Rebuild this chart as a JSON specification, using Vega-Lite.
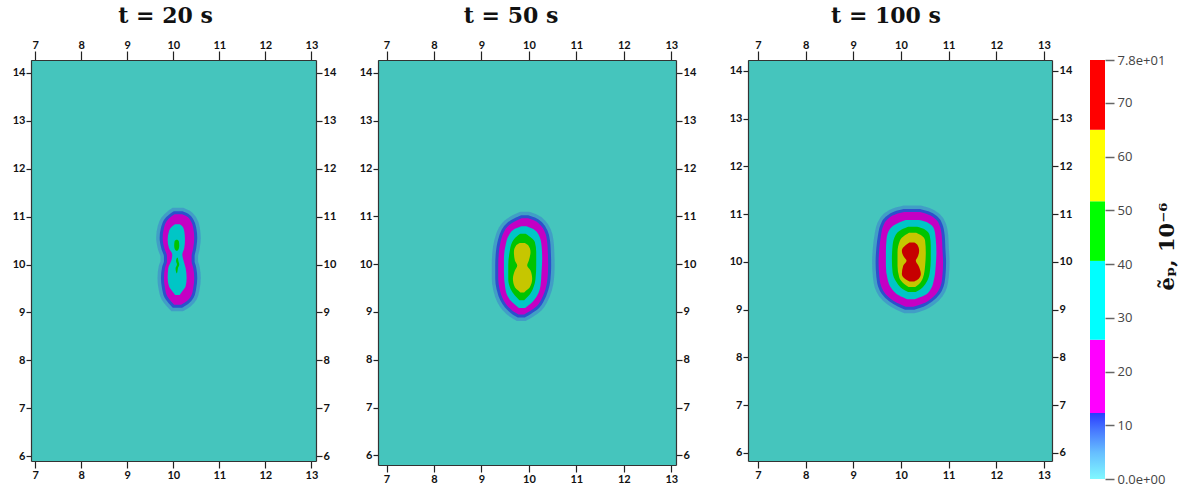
{
  "$schema": "https://vega.github.io/schema/vega-lite/v6.json",
  "padding": {"left": 12, "top": 5, "right": 2, "bottom": 2},
  "background": "white",
  "datasets": {
    "blobs": [
      {"p":"t20","band":"purple","s":"a","y":11.05,"xl":10.03,"xr":10.19},
      {"p":"t20","band":"purple","s":"a","y":11.007,"xl":9.964,"xr":10.29},
      {"p":"t20","band":"purple","s":"a","y":10.903,"xl":9.856,"xr":10.384},
      {"p":"t20","band":"purple","s":"a","y":10.764,"xl":9.798,"xr":10.434},
      {"p":"t20","band":"purple","s":"a","y":10.555,"xl":9.769,"xr":10.456},
      {"p":"t20","band":"purple","s":"a","y":10.346,"xl":9.805,"xr":10.434},
      {"p":"t20","band":"purple","s":"a","y":10.172,"xl":9.863,"xr":10.398},
      {"p":"t20","band":"purple","s":"a","y":10.068,"xl":9.863,"xr":10.398},
      {"p":"t20","band":"purple","s":"a","y":9.929,"xl":9.82,"xr":10.434},
      {"p":"t20","band":"purple","s":"a","y":9.72,"xl":9.798,"xr":10.456},
      {"p":"t20","band":"purple","s":"a","y":9.511,"xl":9.82,"xr":10.434},
      {"p":"t20","band":"purple","s":"a","y":9.337,"xl":9.87,"xr":10.384},
      {"p":"t20","band":"purple","s":"a","y":9.233,"xl":9.95,"xr":10.29},
      {"p":"t20","band":"purple","s":"a","y":9.16,"xl":10.02,"xr":10.17},

      {"p":"t20","band":"cyan","s":"a","y":10.84,"xl":10.04,"xr":10.14},
      {"p":"t20","band":"cyan","s":"a","y":10.798,"xl":9.979,"xr":10.196},
      {"p":"t20","band":"cyan","s":"a","y":10.694,"xl":9.907,"xr":10.239},
      {"p":"t20","band":"cyan","s":"a","y":10.52,"xl":9.878,"xr":10.254},
      {"p":"t20","band":"cyan","s":"a","y":10.346,"xl":9.907,"xr":10.239},
      {"p":"t20","band":"cyan","s":"a","y":10.207,"xl":9.979,"xr":10.196},
      {"p":"t20","band":"cyan","s":"a","y":10.103,"xl":9.964,"xr":10.218},
      {"p":"t20","band":"cyan","s":"a","y":9.929,"xl":9.892,"xr":10.268},
      {"p":"t20","band":"cyan","s":"a","y":9.72,"xl":9.878,"xr":10.29},
      {"p":"t20","band":"cyan","s":"a","y":9.546,"xl":9.907,"xr":10.268},
      {"p":"t20","band":"cyan","s":"a","y":9.442,"xl":9.979,"xr":10.196},
      {"p":"t20","band":"cyan","s":"a","y":9.365,"xl":10.04,"xr":10.14},

      {"p":"t20","band":"green","s":"g1","y":10.52,"xl":10.06,"xr":10.09},
      {"p":"t20","band":"green","s":"g1","y":10.49,"xl":10.03,"xr":10.12},
      {"p":"t20","band":"green","s":"g1","y":10.4,"xl":10.02,"xr":10.13},
      {"p":"t20","band":"green","s":"g1","y":10.33,"xl":10.03,"xr":10.12},
      {"p":"t20","band":"green","s":"g1","y":10.29,"xl":10.06,"xr":10.09},
      {"p":"t20","band":"green","s":"g2","y":10.14,"xl":10.08,"xr":10.1},
      {"p":"t20","band":"green","s":"g2","y":10.08,"xl":10.06,"xr":10.11},
      {"p":"t20","band":"green","s":"g2","y":10.0,"xl":10.08,"xr":10.13},
      {"p":"t20","band":"green","s":"g2","y":9.92,"xl":10.05,"xr":10.1},
      {"p":"t20","band":"green","s":"g2","y":9.85,"xl":10.06,"xr":10.09},
      {"p":"t20","band":"green","s":"g2","y":9.82,"xl":10.07,"xr":10.08},

      {"p":"t50","band":"purple","s":"a","y":10.96,"xl":9.85,"xr":9.98},
      {"p":"t50","band":"purple","s":"a","y":10.919,"xl":9.754,"xr":10.104},
      {"p":"t50","band":"purple","s":"a","y":10.814,"xl":9.579,"xr":10.245},
      {"p":"t50","band":"purple","s":"a","y":10.674,"xl":9.474,"xr":10.336},
      {"p":"t50","band":"purple","s":"a","y":10.464,"xl":9.403,"xr":10.385},
      {"p":"t50","band":"purple","s":"a","y":10.254,"xl":9.368,"xr":10.399},
      {"p":"t50","band":"purple","s":"a","y":9.973,"xl":9.354,"xr":10.406},
      {"p":"t50","band":"purple","s":"a","y":9.693,"xl":9.354,"xr":10.392},
      {"p":"t50","band":"purple","s":"a","y":9.483,"xl":9.382,"xr":10.35},
      {"p":"t50","band":"purple","s":"a","y":9.273,"xl":9.453,"xr":10.266},
      {"p":"t50","band":"purple","s":"a","y":9.133,"xl":9.544,"xr":10.175},
      {"p":"t50","band":"purple","s":"a","y":9.007,"xl":9.684,"xr":9.999},
      {"p":"t50","band":"purple","s":"a","y":8.95,"xl":9.78,"xr":9.9},

      {"p":"t50","band":"cyan","s":"a","y":10.795,"xl":9.84,"xr":9.95},
      {"p":"t50","band":"cyan","s":"a","y":10.744,"xl":9.719,"xr":10.069},
      {"p":"t50","band":"cyan","s":"a","y":10.604,"xl":9.579,"xr":10.21},
      {"p":"t50","band":"cyan","s":"a","y":10.394,"xl":9.509,"xr":10.266},
      {"p":"t50","band":"cyan","s":"a","y":10.113,"xl":9.474,"xr":10.28},
      {"p":"t50","band":"cyan","s":"a","y":9.833,"xl":9.474,"xr":10.266},
      {"p":"t50","band":"cyan","s":"a","y":9.553,"xl":9.495,"xr":10.245},
      {"p":"t50","band":"cyan","s":"a","y":9.343,"xl":9.544,"xr":10.175},
      {"p":"t50","band":"cyan","s":"a","y":9.203,"xl":9.649,"xr":10.069},
      {"p":"t50","band":"cyan","s":"a","y":9.085,"xl":9.79,"xr":9.92},

      {"p":"t50","band":"green","s":"a","y":10.635,"xl":9.82,"xr":9.93},
      {"p":"t50","band":"green","s":"a","y":10.59,"xl":9.754,"xr":9.999},
      {"p":"t50","band":"green","s":"a","y":10.464,"xl":9.649,"xr":10.125},
      {"p":"t50","band":"green","s":"a","y":10.254,"xl":9.593,"xr":10.154},
      {"p":"t50","band":"green","s":"a","y":9.973,"xl":9.565,"xr":10.154},
      {"p":"t50","band":"green","s":"a","y":9.693,"xl":9.565,"xr":10.14},
      {"p":"t50","band":"green","s":"a","y":9.483,"xl":9.614,"xr":10.083},
      {"p":"t50","band":"green","s":"a","y":9.343,"xl":9.705,"xr":9.999},
      {"p":"t50","band":"green","s":"a","y":9.245,"xl":9.8,"xr":9.9},

      {"p":"t50","band":"yellow","s":"a","y":10.445,"xl":9.81,"xr":9.91},
      {"p":"t50","band":"yellow","s":"a","y":10.394,"xl":9.733,"xr":9.985},
      {"p":"t50","band":"yellow","s":"a","y":10.254,"xl":9.684,"xr":10.034},
      {"p":"t50","band":"yellow","s":"a","y":10.078,"xl":9.705,"xr":9.999},
      {"p":"t50","band":"yellow","s":"a","y":9.973,"xl":9.754,"xr":9.964},
      {"p":"t50","band":"yellow","s":"a","y":9.868,"xl":9.705,"xr":10.034},
      {"p":"t50","band":"yellow","s":"a","y":9.693,"xl":9.663,"xr":10.069},
      {"p":"t50","band":"yellow","s":"a","y":9.518,"xl":9.705,"xr":10.02},
      {"p":"t50","band":"yellow","s":"a","y":9.448,"xl":9.775,"xr":9.943},
      {"p":"t50","band":"yellow","s":"a","y":9.405,"xl":9.82,"xr":9.9},

      {"p":"t100","band":"purple","s":"a","y":11.045,"xl":10.07,"xr":10.4},
      {"p":"t100","band":"purple","s":"a","y":11.001,"xl":9.894,"xr":10.556},
      {"p":"t100","band":"purple","s":"a","y":10.896,"xl":9.719,"xr":10.73},
      {"p":"t100","band":"purple","s":"a","y":10.757,"xl":9.629,"xr":10.814},
      {"p":"t100","band":"purple","s":"a","y":10.548,"xl":9.58,"xr":10.856},
      {"p":"t100","band":"purple","s":"a","y":10.27,"xl":9.545,"xr":10.87},
      {"p":"t100","band":"purple","s":"a","y":9.992,"xl":9.531,"xr":10.884},
      {"p":"t100","band":"purple","s":"a","y":9.713,"xl":9.545,"xr":10.87},
      {"p":"t100","band":"purple","s":"a","y":9.505,"xl":9.58,"xr":10.835},
      {"p":"t100","band":"purple","s":"a","y":9.365,"xl":9.649,"xr":10.765},
      {"p":"t100","band":"purple","s":"a","y":9.226,"xl":9.789,"xr":10.626},
      {"p":"t100","band":"purple","s":"a","y":9.122,"xl":9.963,"xr":10.451},
      {"p":"t100","band":"purple","s":"a","y":9.06,"xl":10.1,"xr":10.26},

      {"p":"t100","band":"cyan","s":"a","y":10.878,"xl":10.1,"xr":10.38},
      {"p":"t100","band":"cyan","s":"a","y":10.827,"xl":9.963,"xr":10.556},
      {"p":"t100","band":"cyan","s":"a","y":10.688,"xl":9.768,"xr":10.695},
      {"p":"t100","band":"cyan","s":"a","y":10.479,"xl":9.698,"xr":10.73},
      {"p":"t100","band":"cyan","s":"a","y":10.2,"xl":9.684,"xr":10.744},
      {"p":"t100","band":"cyan","s":"a","y":9.922,"xl":9.684,"xr":10.73},
      {"p":"t100","band":"cyan","s":"a","y":9.644,"xl":9.719,"xr":10.695},
      {"p":"t100","band":"cyan","s":"a","y":9.435,"xl":9.81,"xr":10.626},
      {"p":"t100","band":"cyan","s":"a","y":9.296,"xl":9.963,"xr":10.486},
      {"p":"t100","band":"cyan","s":"a","y":9.22,"xl":10.13,"xr":10.29},

      {"p":"t100","band":"green","s":"a","y":10.738,"xl":10.15,"xr":10.34},
      {"p":"t100","band":"green","s":"a","y":10.688,"xl":10.033,"xr":10.486},
      {"p":"t100","band":"green","s":"a","y":10.548,"xl":9.88,"xr":10.605},
      {"p":"t100","band":"green","s":"a","y":10.34,"xl":9.824,"xr":10.626},
      {"p":"t100","band":"green","s":"a","y":10.061,"xl":9.81,"xr":10.626},
      {"p":"t100","band":"green","s":"a","y":9.783,"xl":9.824,"xr":10.605},
      {"p":"t100","band":"green","s":"a","y":9.574,"xl":9.908,"xr":10.535},
      {"p":"t100","band":"green","s":"a","y":9.435,"xl":10.033,"xr":10.417},
      {"p":"t100","band":"green","s":"a","y":9.37,"xl":10.15,"xr":10.31},

      {"p":"t100","band":"yellow","s":"a","y":10.612,"xl":10.17,"xr":10.32},
      {"p":"t100","band":"yellow","s":"a","y":10.562,"xl":10.089,"xr":10.417},
      {"p":"t100","band":"yellow","s":"a","y":10.444,"xl":9.977,"xr":10.507},
      {"p":"t100","band":"yellow","s":"a","y":10.2,"xl":9.928,"xr":10.521},
      {"p":"t100","band":"yellow","s":"a","y":9.922,"xl":9.928,"xr":10.507},
      {"p":"t100","band":"yellow","s":"a","y":9.678,"xl":9.963,"xr":10.465},
      {"p":"t100","band":"yellow","s":"a","y":9.539,"xl":10.068,"xr":10.382},
      {"p":"t100","band":"yellow","s":"a","y":9.475,"xl":10.16,"xr":10.3},

      {"p":"t100","band":"red","s":"a","y":10.405,"xl":10.18,"xr":10.28},
      {"p":"t100","band":"red","s":"a","y":10.353,"xl":10.103,"xr":10.347},
      {"p":"t100","band":"red","s":"a","y":10.235,"xl":10.019,"xr":10.382},
      {"p":"t100","band":"red","s":"a","y":10.096,"xl":10.068,"xr":10.347},
      {"p":"t100","band":"red","s":"a","y":10.026,"xl":10.117,"xr":10.312},
      {"p":"t100","band":"red","s":"a","y":9.922,"xl":10.047,"xr":10.368},
      {"p":"t100","band":"red","s":"a","y":9.748,"xl":10.019,"xr":10.417},
      {"p":"t100","band":"red","s":"a","y":9.644,"xl":10.089,"xr":10.368},
      {"p":"t100","band":"red","s":"a","y":9.592,"xl":10.18,"xr":10.28}
    ],
    "colorbar": [
      {"seg":"low","lo":0,"hi":12.3},
      {"seg":"magenta","lo":12.3,"hi":25.9},
      {"seg":"cyan","lo":25.9,"hi":40.6},
      {"seg":"green","lo":40.6,"hi":51.7},
      {"seg":"yellow","lo":51.7,"hi":65},
      {"seg":"red","lo":65,"hi":78}
    ]
  },
  "config": {
    "view": {"stroke": null},
    "axis": {
      "grid": false,
      "title": null,
      "labelFont": "Lato",
      "labelFontWeight": "bold",
      "labelFontSize": 11,
      "labelColor": "#111",
      "tickColor": "#222",
      "tickWidth": 1.2,
      "domainColor": "#333",
      "domainWidth": 1.2,
      "labelFlush": false,
      "labelOverlap": false,
      "labelPadding": 1
    },
    "title": {"font": "DejaVu Serif", "fontSize": 22, "fontWeight": "bold", "color": "#111"}
  },
  "resolve": {"scale": {"color": "independent"}},
  "spacing": 18,
  "hconcat": [
    {
      "spacing": 33,
      "hconcat": [
        {
          "spacing": 23,
          "hconcat": [
            {
              "title": {"text": "t = 20 s", "offset": 11, "dx": -8},
              "width": 285,
              "height": 401,
              "view": {"fill": "#45C5BD"},
              "data": {"name": "blobs"},
              "transform": [{"filter": "datum.p == 't20'"}],
              "encoding": {
                "x": {"field": "xl", "type": "quantitative", "stack": null, "axis": null,
                      "scale": {"domain": [6.91, 13.1], "nice": false, "zero": false}},
                "x2": {"field": "xr"},
                "y": {"field": "y", "type": "quantitative", "axis": null,
                      "scale": {"domain": [5.9, 14.27], "nice": false, "zero": false}},
                "detail": {"field": "s"},
                "color": {"field": "band", "type": "nominal", "legend": null,
                          "scale": {"domain": ["purple","cyan","green","yellow","red"],
                                    "range": ["#C400C4","#00C6C6","#00C400","#C6C600","#C60000"]}}
              },
              "layer": [
                {
                  "transform": [{"filter": "datum.band == 'purple'"}],
                  "mark": {"type": "area", "orient": "horizontal", "interpolate": "monotone", "fillOpacity": 0, "stroke": "#3a3ae0", "strokeOpacity": 0.28, "strokeWidth": 13},
                  "encoding": {
                    "x": {"field": "xl", "type": "quantitative", "stack": null,
                          "axis": {"orient": "bottom", "values": [7,8,9,10,11,12,13], "tickSize": 7}},
                    "y": {"field": "y", "type": "quantitative",
                          "axis": {"orient": "left", "values": [6,7,8,9,10,11,12,13,14], "tickSize": 5}}
                  }
                },
                {
                  "transform": [{"filter": "datum.band == 'purple'"}],
                  "mark": {"type": "area", "orient": "horizontal", "interpolate": "monotone", "fillOpacity": 0, "stroke": "#1e1ed0", "strokeOpacity": 0.6, "strokeWidth": 6},
                  "encoding": {
                    "x": {"field": "xl", "type": "quantitative", "stack": null,
                          "axis": {"orient": "top", "values": [7,8,9,10,11,12,13], "tickSize": 9}},
                    "y": {"field": "y", "type": "quantitative",
                          "axis": {"orient": "right", "values": [6,7,8,9,10,11,12,13,14], "tickSize": 6}}
                  }
                },
                {"transform": [{"filter": "datum.band == 'purple'"}], "mark": {"type": "area", "orient": "horizontal", "interpolate": "monotone"}},
                {"transform": [{"filter": "datum.band == 'cyan'"}], "mark": {"type": "area", "orient": "horizontal", "interpolate": "monotone"}},
                {"transform": [{"filter": "datum.band == 'green'"}], "mark": {"type": "area", "orient": "horizontal", "interpolate": "monotone"}}
              ],
              "resolve": {"axis": {"x": "independent", "y": "independent"}}
            },
            {
              "title": {"text": "t = 50 s", "offset": 11, "dx": -16},
              "width": 298,
              "height": 405,
              "view": {"fill": "#45C5BD"},
              "data": {"name": "blobs"},
              "transform": [{"filter": "datum.p == 't50'"}],
              "encoding": {
                "x": {"field": "xl", "type": "quantitative", "stack": null, "axis": null,
                      "scale": {"domain": [6.82, 13.1], "nice": false, "zero": false}},
                "x2": {"field": "xr"},
                "y": {"field": "y", "type": "quantitative", "axis": null,
                      "scale": {"domain": [5.8, 14.27], "nice": false, "zero": false}},
                "detail": {"field": "s"},
                "color": {"field": "band", "type": "nominal", "legend": null,
                          "scale": {"domain": ["purple","cyan","green","yellow","red"],
                                    "range": ["#C400C4","#00C6C6","#00C400","#C6C600","#C60000"]}}
              },
              "layer": [
                {
                  "transform": [{"filter": "datum.band == 'purple'"}],
                  "mark": {"type": "area", "orient": "horizontal", "interpolate": "monotone", "fillOpacity": 0, "stroke": "#3a3ae0", "strokeOpacity": 0.28, "strokeWidth": 13},
                  "encoding": {
                    "x": {"field": "xl", "type": "quantitative", "stack": null,
                          "axis": {"orient": "bottom", "values": [7,8,9,10,11,12,13], "tickSize": 7}},
                    "y": {"field": "y", "type": "quantitative",
                          "axis": {"orient": "left", "values": [6,7,8,9,10,11,12,13,14], "tickSize": 5}}
                  }
                },
                {
                  "transform": [{"filter": "datum.band == 'purple'"}],
                  "mark": {"type": "area", "orient": "horizontal", "interpolate": "monotone", "fillOpacity": 0, "stroke": "#1e1ed0", "strokeOpacity": 0.6, "strokeWidth": 6},
                  "encoding": {
                    "x": {"field": "xl", "type": "quantitative", "stack": null,
                          "axis": {"orient": "top", "values": [7,8,9,10,11,12,13], "tickSize": 9}},
                    "y": {"field": "y", "type": "quantitative",
                          "axis": {"orient": "right", "values": [6,7,8,9,10,11,12,13,14], "tickSize": 6}}
                  }
                },
                {"transform": [{"filter": "datum.band == 'purple'"}], "mark": {"type": "area", "orient": "horizontal", "interpolate": "monotone"}},
                {"transform": [{"filter": "datum.band == 'cyan'"}], "mark": {"type": "area", "orient": "horizontal", "interpolate": "monotone"}},
                {"transform": [{"filter": "datum.band == 'green'"}], "mark": {"type": "area", "orient": "horizontal", "interpolate": "monotone"}},
                {"transform": [{"filter": "datum.band == 'yellow'"}], "mark": {"type": "area", "orient": "horizontal", "interpolate": "monotone"}}
              ],
              "resolve": {"axis": {"x": "independent", "y": "independent"}}
            }
          ]
        },
        {
          "title": {"text": "t = 100 s", "offset": 11, "dx": -14},
          "width": 304,
          "height": 401,
          "view": {"fill": "#45C5BD"},
          "data": {"name": "blobs"},
          "transform": [{"filter": "datum.p == 't100'"}],
          "encoding": {
            "x": {"field": "xl", "type": "quantitative", "stack": null, "axis": null,
                  "scale": {"domain": [6.79, 13.17], "nice": false, "zero": false}},
            "x2": {"field": "xr"},
            "y": {"field": "y", "type": "quantitative", "axis": null,
                  "scale": {"domain": [5.83, 14.23], "nice": false, "zero": false}},
            "detail": {"field": "s"},
            "color": {"field": "band", "type": "nominal", "legend": null,
                      "scale": {"domain": ["purple","cyan","green","yellow","red"],
                                "range": ["#C400C4","#00C6C6","#00C400","#C6C600","#C60000"]}}
          },
          "layer": [
            {
              "transform": [{"filter": "datum.band == 'purple'"}],
              "mark": {"type": "area", "orient": "horizontal", "interpolate": "monotone", "fillOpacity": 0, "stroke": "#3a3ae0", "strokeOpacity": 0.28, "strokeWidth": 13},
              "encoding": {
                "x": {"field": "xl", "type": "quantitative", "stack": null,
                      "axis": {"orient": "bottom", "values": [7,8,9,10,11,12,13], "tickSize": 7}},
                "y": {"field": "y", "type": "quantitative",
                      "axis": {"orient": "left", "values": [6,7,8,9,10,11,12,13,14], "tickSize": 5}}
              }
            },
            {
              "transform": [{"filter": "datum.band == 'purple'"}],
              "mark": {"type": "area", "orient": "horizontal", "interpolate": "monotone", "fillOpacity": 0, "stroke": "#1e1ed0", "strokeOpacity": 0.6, "strokeWidth": 6},
              "encoding": {
                "x": {"field": "xl", "type": "quantitative", "stack": null,
                      "axis": {"orient": "top", "values": [7,8,9,10,11,12,13], "tickSize": 9}},
                "y": {"field": "y", "type": "quantitative",
                      "axis": {"orient": "right", "values": [6,7,8,9,10,11,12,13,14], "tickSize": 6}}
              }
            },
            {"transform": [{"filter": "datum.band == 'purple'"}], "mark": {"type": "area", "orient": "horizontal", "interpolate": "monotone"}},
            {"transform": [{"filter": "datum.band == 'cyan'"}], "mark": {"type": "area", "orient": "horizontal", "interpolate": "monotone"}},
            {"transform": [{"filter": "datum.band == 'green'"}], "mark": {"type": "area", "orient": "horizontal", "interpolate": "monotone"}},
            {"transform": [{"filter": "datum.band == 'yellow'"}], "mark": {"type": "area", "orient": "horizontal", "interpolate": "monotone"}},
            {"transform": [{"filter": "datum.band == 'red'"}], "mark": {"type": "area", "orient": "horizontal", "interpolate": "monotone"}}
          ],
          "resolve": {"axis": {"x": "independent", "y": "independent"}}
        }
      ]
    },
    {
      "width": 15,
      "height": 419,
      "data": {"name": "colorbar"},
      "encoding": {
        "y": {"field": "lo", "type": "quantitative",
              "scale": {"domain": [0, 78], "nice": false, "zero": false},
              "axis": {
                "orient": "right",
                "values": [0,10,20,30,40,50,60,70,78],
                "labelExpr": "datum.value == 0 ? '0.0e+00' : datum.value == 78 ? '7.8e+01' : datum.label",
                "domain": false,
                "tickSize": 9,
                "tickOffset": 0,
                "tickColor": "#666",
                "tickWidth": 1.5,
                "labelFont": "Open Sans",
                "labelFontWeight": "normal",
                "labelFontSize": 13,
                "labelColor": "#444",
                "labelPadding": 3,
                "title": "ẽₚ, 10⁻⁶",
                "titleFont": "DejaVu Serif",
                "titleFontSize": 21,
                "titleFontWeight": "bold",
                "titleColor": "#111",
                "titleAngle": 270,
                "titleAlign": "center",
                "titleBaseline": "middle",
                "titleX": 62,
                "titleY": 186
              }},
        "y2": {"field": "hi"}
      },
      "layer": [
        {
          "transform": [{"filter": "datum.seg == 'low'"}],
          "mark": {"type": "rect", "color": {"gradient": "linear", "x1": 0, "y1": 1, "x2": 0, "y2": 0,
                   "stops": [{"offset": 0, "color": "#80F8FF"}, {"offset": 0.4, "color": "#66BEFF"}, {"offset": 0.75, "color": "#4676FF"}, {"offset": 1, "color": "#2A3CFF"}]}}
        },
        {
          "transform": [{"filter": "datum.seg != 'low'"}],
          "mark": {"type": "rect"},
          "encoding": {
            "color": {"field": "seg", "type": "nominal", "legend": null,
                      "scale": {"domain": ["magenta","cyan","green","yellow","red"],
                                "range": ["#FF00FF","#00FFFF","#00FF00","#FFFF00","#FF0000"]}}
          }
        }
      ]
    }
  ]
}
